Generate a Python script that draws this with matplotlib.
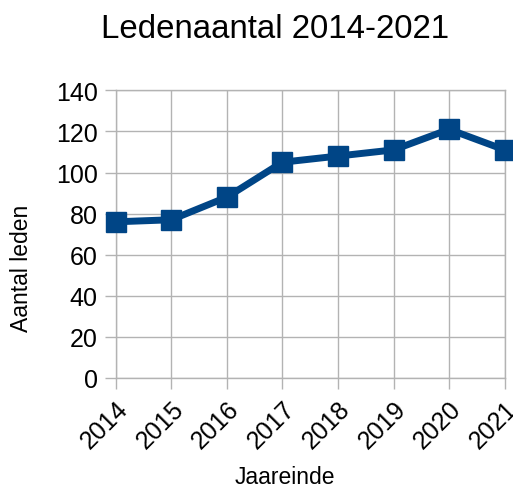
import matplotlib
matplotlib.use("Agg")
import matplotlib.pyplot as plt

years = ["2014", "2015", "2016", "2017", "2018", "2019", "2020", "2021"]
members = [76, 77, 88, 105, 108, 111, 121, 111]
yticks = [0, 20, 40, 60, 80, 100, 120, 140]

plt.rcParams['font.family'] = ['Liberation Sans', 'DejaVu Sans']
fig = plt.figure(figsize=(5.13, 4.89), dpi=100)
ax = fig.add_axes([115.7/513, 1-379/489, (504.7-115.7)/513, (379-91.3)/489])

x = list(range(len(years)))
ax.plot(x, members, color='#004586', linewidth=5, marker='s', markersize=14.2,
        clip_on=False, zorder=5)
ax.set_xlim(0, len(years)-1)
ax.set_ylim(0, 140)
ax.set_yticks(yticks)
ax.set_xticks(x)
ax.set_xticklabels(years, rotation=45, ha='right', rotation_mode='anchor', fontsize=18)
ax.tick_params(axis='y', labelsize=18, length=8, color='#b3b3b3', width=1, pad=5)
ax.tick_params(axis='x', length=8, color='#b3b3b3', width=1, pad=5)
ax.grid(axis='y', color='#b3b3b3', linewidth=1)
ax.grid(axis='x', color='#b3b3b3', linewidth=1)
for s in ['top', 'right', 'bottom', 'left']:
    ax.spines[s].set_color('#b3b3b3')
    ax.spines[s].set_linewidth(1)
ax.set_axisbelow(True)

fig.text(22/513, 1-268/489, 'Aantal leden', fontsize=16.5, rotation=90,
         ha='center', va='center')
fig.text(284.5/513, 1-478/489, 'Jaareinde', fontsize=16.5, ha='center', va='center')
fig.text(275.5/513, 1-29/489, 'Ledenaantal 2014-2021', fontsize=23.8, ha='center', va='center')

fig.savefig('out.png', dpi=100)
